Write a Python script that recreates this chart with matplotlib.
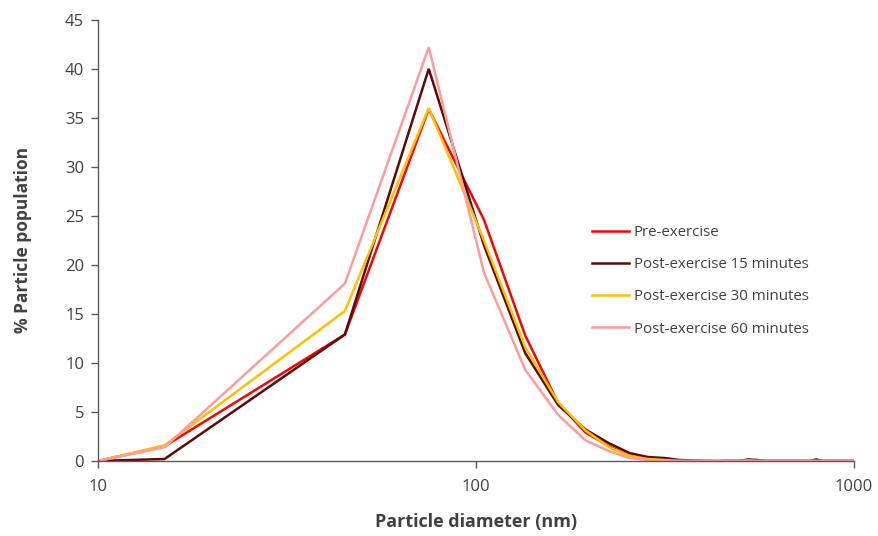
import matplotlib
matplotlib.use("Agg")
import matplotlib.pyplot as plt
from matplotlib.ticker import FixedLocator, NullLocator

plt.rcParams['font.family'] = ['Open Sans', 'DejaVu Sans']

# particle size bins (nm)
diameter = [10, 15, 45, 75, 105, 135, 165, 195, 225, 255, 285, 315, 345, 375,
            405, 435, 465, 495, 525, 555, 585, 615, 645, 675, 705, 735, 765,
            795, 825, 855, 885, 915, 945, 975, 1000]

pre = [0, 1.5, 12.9, 35.9, 24.6, 12.8, 5.9, 2.9, 1.5, 0.5, 0.2, 0.1, 0.05, 0,
       0, 0.05, 0, 0, 0.1, 0, 0, 0, 0, 0, 0, 0, 0,
       0, 0, 0, 0, 0, 0, 0, 0]
post15 = [0, 0.2, 12.9, 40.0, 22.0, 11.0, 5.7, 3.2, 1.8, 0.8, 0.4, 0.3, 0.1, 0.05,
          0, 0.05, 0, 0, 0.15, 0.1, 0, 0, 0, 0, 0, 0, 0,
          0.15, 0, 0, 0, 0, 0, 0, 0]
post30 = [0, 1.6, 15.3, 36.0, 22.5, 11.6, 6.0, 3.1, 1.4, 0.5, 0.2, 0.1, 0, 0,
          0, 0.1, 0, 0, 0.05, 0, 0, 0, 0, 0, 0, 0, 0,
          0, 0, 0, 0, 0, 0, 0, 0]
post60 = [0, 1.4, 18.1, 42.2, 19.2, 9.3, 4.7, 2.1, 1.0, 0.3, 0.1, 0, 0, 0,
          0, 0, 0, 0, 0, 0, 0, 0, 0, 0, 0, 0, 0,
          0, 0, 0, 0, 0, 0, 0, 0]

labels = ["Pre-exercise", "Post-exercise 15 minutes",
          "Post-exercise 30 minutes", "Post-exercise 60 minutes"]
colors = ["#FF0000", "#5C0A0A", "#FFC000", "#FF9B9B"]

fig = plt.figure(figsize=(8.79, 5.36), dpi=100)
ax = fig.add_axes([0.1115, 0.14, 0.86, 0.823])

for ys, lab, c in zip([pre, post15, post30, post60], labels, colors):
    ax.plot(diameter, ys, color=c, lw=1.8, label=lab, solid_joinstyle='miter')

ax.set_xscale('log')
ax.set_xlim(10, 1000)
ax.set_ylim(0, 45)
ax.xaxis.set_major_locator(FixedLocator([10, 100, 1000]))
ax.xaxis.set_minor_locator(NullLocator())
ax.set_xticklabels(["10", "100", "1000"])
ax.set_yticks(range(0, 46, 5))

for side in ['top', 'right']:
    ax.spines[side].set_visible(False)
for side in ['left', 'bottom']:
    ax.spines[side].set_color('#595959')
    ax.spines[side].set_linewidth(1.0)
ax.tick_params(axis='both', colors='#595959', labelcolor='#404040',
               labelsize=12, length=5, width=1.0)
ax.tick_params(axis='x', pad=8)
ax.tick_params(axis='y', pad=5)

ax.set_xlabel("Particle diameter (nm)", fontsize=13, fontweight='bold',
              color='#404040', labelpad=13)
ax.set_ylabel("% Particle population", fontsize=12.5, fontweight='bold',
              color='#404040', labelpad=24)

leg = ax.legend(loc='upper left', bbox_to_anchor=(0.636, 0.566), frameon=False,
                fontsize=10.8, handlelength=2.45, handletextpad=0.3,
                labelspacing=1.15)
for t in leg.get_texts():
    t.set_color('#404040')

fig.savefig("out.png", dpi=100)
